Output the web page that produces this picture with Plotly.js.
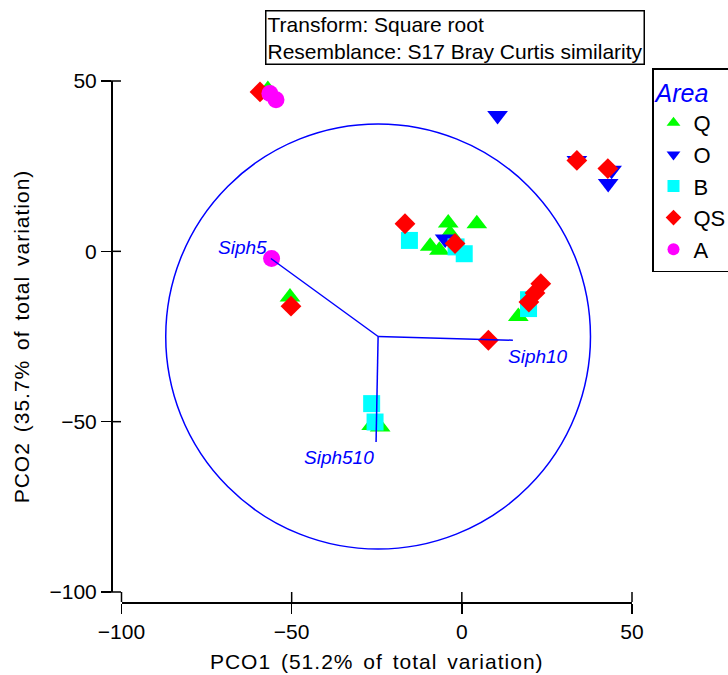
<!DOCTYPE html>
<html>
<head>
<meta charset="utf-8">
<script src="https://cdn.plot.ly/plotly-3.0.1.min.js"></script>
<style>
html,body{margin:0;padding:0;background:#fff;}
#chart{width:728px;height:675px;}
text.xtitle, text.ytitle {letter-spacing: 1px; word-spacing: 3px;}
</style>
</head>
<body>
<div id="chart"></div>
<script>
// ---- data ----
const areaNames = ["Q", "O", "B", "QS", "A"];
const Q_x = [-57, -4.0, 4.4, -3.5, -9.3, -6.6, -50.5, -26.5, -24.0, 16.6];
const Q_y = [47.5, 8.3, 8.1, 5.2, 1.5, 0.3, -13.4, -51.1, -51.6, -19.1];
const O_x = [10.5, -4.9, 33.8, 44.0, 43.0];
const O_y = [39.9, 3.6, 26.7, 23.8, 19.9];
const B_x = [-15.4, -1.7, 0.7, 19.6, 19.6, -26.5, -25.5];
const B_y = [3.2, 1.3, -0.7, -14.2, -16.8, -44.7, -50.1];
const QS_x = [-59.3, -16.7, -2.0, -50.2, 7.8, 23.2, 21.5, 19.7, 33.8, 42.9];
const QS_y = [46.8, 8.1, 2.3, -16.1, -26.1, -9.5, -12.2, -14.9, 26.7, 24.3];
const A_x = [-56.4, -54.6, -55.9];
const A_y = [46.3, 44.5, -2.1];

const vecNames = ["Siph5", "Siph10", "Siph510"];
const vecOrigin = [-24.6, -25.0];
const vecEndX = [-56.1, 15.0, -25.2];
const vecEndY = [-2.1, -26.1, -56.0];
const circleCenter = [-24.6, -25.0];
const circleRadius = 62.4;

const xTicks = [-100, -50, 0, 50];
const yTicks = [-100, -50, 0, 50];
const xRange = [-100, 50];
const yRange = [-100, 50];
const xTitle = "PCO1 (51.2% of total variation)";
const yTitle = "PCO2 (35.7% of total variation)";
const infoText = "Transform: Square root<br>Resemblance: S17 Bray Curtis similarity";

// ---- styles ----
const FONT = "Liberation Sans, Arial, sans-serif";
const styles = {
  Q:  {symbol: "triangle-up",   color: "#00ff00", size: 18},
  O:  {symbol: "triangle-down", color: "#0000ff", size: 18},
  B:  {symbol: "square",        color: "#00ffff", size: 17},
  QS: {symbol: "diamond",       color: "#ff0000", size: 16},
  A:  {symbol: "circle",        color: "#ff00ff", size: 17}
};
const series = {Q: [Q_x, Q_y], O: [O_x, O_y], B: [B_x, B_y], QS: [QS_x, QS_y], A: [A_x, A_y]};

const traces = areaNames.map(n => ({
  type: "scatter", mode: "markers", name: n,
  x: series[n][0], y: series[n][1],
  marker: {symbol: styles[n].symbol, color: styles[n].color, size: styles[n].size, line: {width: 0}},
  cliponaxis: false
}));

vecNames.forEach((v, i) => {
  traces.push({
    type: "scatter", mode: "lines", showlegend: false, hoverinfo: "skip",
    x: [vecOrigin[0], vecEndX[i]], y: [vecOrigin[1], vecEndY[i]],
    line: {color: "#0000ff", width: 1.5}
  });
});

// layout geometry
const ML = 100, MR = 88, MT = 70, MB = 60;
const W = 728, H = 675;
const pw = W - ML - MR, ph = H - MT - MB;
const xd = [(121.5 - ML) / pw, (632 - ML) / pw];
const yd = [(H - MB - 592) / ph, (H - MB - 81) / ph];
const yAxisPos = (111 - ML) / pw;
const xAxisPos = (H - MB - 602) / ph;
const TL = 10; // tick length

const axisCommon = {showgrid: false, zeroline: false, linecolor: "#000", linewidth: 1.5,
  tickcolor: "#000", tickwidth: 1.5, ticklen: TL, tickfont: {family: FONT, size: 21, color: "#000"}};

const vecLabelPos = [
  {xanchor: "right", yanchor: "bottom", xshift: -2, yshift: -2},
  {xanchor: "left", yanchor: "top", xshift: -7, yshift: -4},
  {xanchor: "right", yanchor: "top", xshift: 0, yshift: -3}
];

const annotations = vecNames.map((v, i) => Object.assign({
  x: vecEndX[i], y: vecEndY[i], xref: "x", yref: "y", text: v, showarrow: false,
  font: {family: FONT, size: 19, color: "#0000ff", style: "italic"}
}, vecLabelPos[i]));
annotations.push({
  xref: "paper", yref: "paper", x: (265 - ML) / pw, y: (H - MB - 10) / ph,
  xanchor: "left", yanchor: "top", align: "left", showarrow: false,
  text: infoText, bordercolor: "#000", borderwidth: 1.5, borderpad: 1,
  font: {family: FONT, size: 21, color: "#000"}
});

// inner halves of the crossing tick marks (axis decoration, paper coordinates)
const xToPaper = t => xd[0] + (t - xRange[0]) / (xRange[1] - xRange[0]) * (xd[1] - xd[0]);
const yToPaper = t => yd[0] + (t - yRange[0]) / (yRange[1] - yRange[0]) * (yd[1] - yd[0]);
const shapes = [{
  type: "circle", xref: "x", yref: "y", layer: "below",
  x0: circleCenter[0] - circleRadius, x1: circleCenter[0] + circleRadius,
  y0: circleCenter[1] - circleRadius, y1: circleCenter[1] + circleRadius,
  line: {color: "#0000ff", width: 1.5}
}];
xTicks.forEach(t => shapes.push({
  type: "line", xref: "paper", yref: "paper", x0: xToPaper(t), x1: xToPaper(t),
  y0: xAxisPos, y1: xAxisPos + TL / ph, line: {color: "#000", width: 1.5}
}));
yTicks.forEach(t => shapes.push({
  type: "line", xref: "paper", yref: "paper", y0: yToPaper(t), y1: yToPaper(t),
  x0: yAxisPos, x1: yAxisPos + TL / pw, line: {color: "#000", width: 1.5}
}));

const layout = {
  width: W, height: H,
  margin: {l: ML, r: MR, t: MT, b: MB, autoexpand: false},
  paper_bgcolor: "#fff", plot_bgcolor: "#fff",
  font: {family: FONT, color: "#000"},
  xaxis: Object.assign({}, axisCommon, {
    domain: xd, range: xRange, tickvals: xTicks, ticks: "outside",
    showline: true, anchor: "free", position: xAxisPos, automargin: false,
    title: {text: xTitle, font: {family: FONT, size: 21, color: "#000"}, standoff: 12}
  }),
  yaxis: Object.assign({}, axisCommon, {
    domain: yd, range: yRange, tickvals: yTicks, ticks: "outside",
    showline: true, anchor: "free", position: yAxisPos, automargin: false,
    title: {text: yTitle, font: {family: FONT, size: 21, color: "#000"}, standoff: 12}
  }),
  shapes: shapes,
  annotations: annotations,
  legend: {
    x: (652 - ML) / pw, y: (H - MB - 68) / ph, xanchor: "left", yanchor: "top",
    bordercolor: "#000", borderwidth: 1.5, bgcolor: "#fff",
    font: {family: FONT, size: 22, color: "#000"},
    title: {text: "Area", font: {family: FONT, size: 25, color: "#0000ff", style: "italic"}},
    itemsizing: "constant", tracegroupgap: 0
  },
  showlegend: true
};

Plotly.newPlot("chart", traces, layout, {displayModeBar: false, staticPlot: true});
</script>
</body>
</html>
